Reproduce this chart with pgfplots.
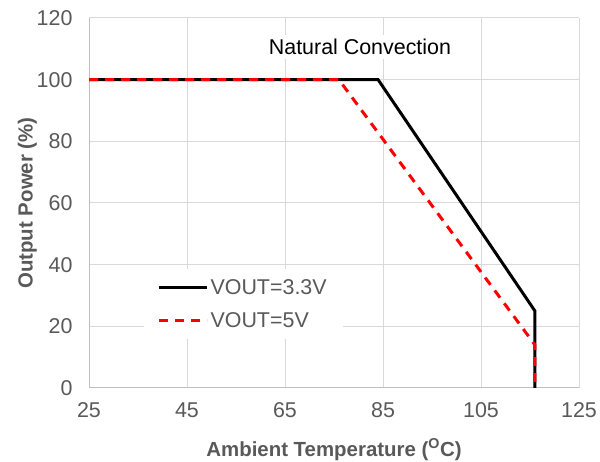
\documentclass[border=0pt]{standalone}
\usepackage{fontspec}
\setmainfont{Liberation Sans}
\usepackage{pgfplots}
\pgfplotsset{compat=1.18}

\definecolor{ticktext}{HTML}{595959}
\definecolor{gridgray}{HTML}{D9D9D9}
\definecolor{axisgray}{HTML}{BFBFBF}

\begin{document}
\begin{tikzpicture}
  \useasboundingbox (0,0) rectangle (600bp,462bp);
  \begin{axis}[
    at={(89bp,74bp)}, anchor=south west,
    scale only axis,
    width=490bp, height=370bp,
    xmin=25, xmax=125, ymin=0, ymax=120,
    xtick={25,45,...,125},
    ytick={0,20,...,120},
    major tick length=0pt,
    grid=major,
    major grid style={draw=gridgray, line width=1bp},
    axis line style={draw=axisgray, line width=1bp},
    axis x line*=bottom, axis y line*=left,
    tick label style={font=\fontsize{21.5}{25}\selectfont, text=ticktext},
    /pgf/number format/assume math mode=true,
    xticklabel style={yshift=-11bp},
    yticklabel style={xshift=-13bp},
    xlabel={\textbf{Ambient Temperature (\textsuperscript{O}C)}},
    ylabel={\textbf{Output Power (\%)}},
    label style={font=\fontsize{20.5}{24}\selectfont, text=ticktext},
    xlabel style={yshift=-14bp},
    ylabel style={yshift=-7bp},
    legend style={at={(0.111,0.322)}, anchor=north west, draw=none, fill=white,
      font=\fontsize{21.5}{25}\selectfont, text=ticktext,
      inner xsep=14bp, inner ysep=8bp, row sep=13bp},
    legend cell align=left,
    legend image code/.code={\draw[#1] (0bp,0bp) -- (48bp,0bp);},
    clip=false,
  ]
    \addplot[black, line width=3bp] coordinates {
      (25,100) (84,100) (116,25) (116,0)
    };
    \addlegendentry{VOUT=3.3V}
    \addplot[red, line width=3bp, dash pattern=on 9bp off 7bp] coordinates {
      (25,100) (76,100) (116,14) (116,0)
    };
    \addlegendentry{VOUT=5V}
    \node[fill=white, inner sep=4bp, font=\fontsize{21.5}{25}\selectfont, text=black]
      at (axis cs:80.3,110.5) {Natural Convection};
  \end{axis}
\end{tikzpicture}
\end{document}
